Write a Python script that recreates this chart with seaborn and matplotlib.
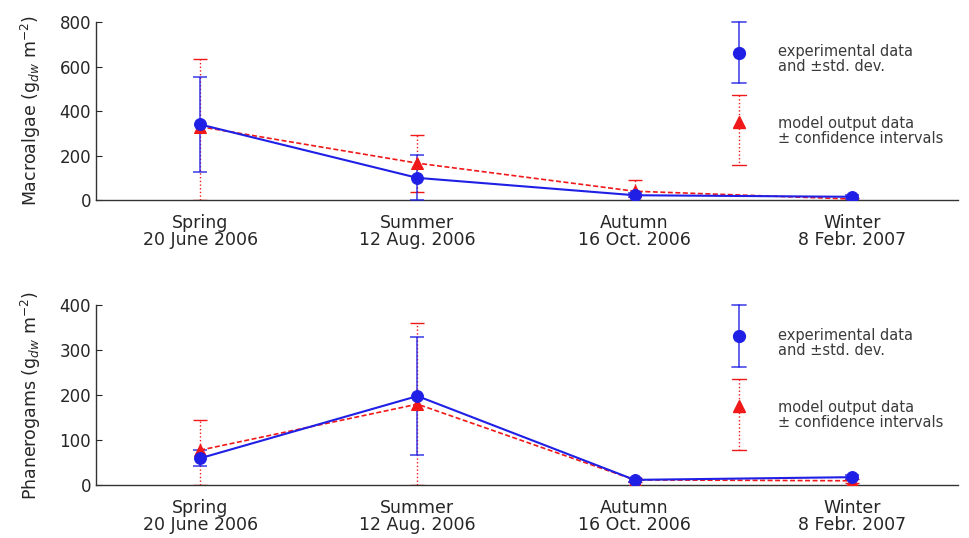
import numpy as np
import pandas as pd
import matplotlib
matplotlib.use("Agg")
import matplotlib.pyplot as plt
import seaborn as sns

# Sampling campaigns
seasons = ["Spring\n20 June 2006", "Summer\n12 Aug. 2006", "Autumn\n16 Oct. 2006", "Winter\n8 Febr. 2007"]

# Macroalgae biomass (g_dw m^-2)
macro_exp = [340, 100, 22, 15]
macro_exp_sd = [215, 105, 10, 8]
macro_mod = [330, 166, 40, 5]
macro_mod_lo = [330, 128, 40, 5]
macro_mod_hi = [305, 128, 50, 5]

# Phanerogams biomass (g_dw m^-2)
phan_exp = [60, 198, 12, 18]
phan_exp_sd = [18, 131, 4, 5]
phan_mod = [78, 180, 12, 10]
phan_mod_lo = [78, 180, 4, 4]
phan_mod_hi = [66, 180, 4, 4]

BLUE = "#1f1fe6"
RED = "#f01818"
TXT = "#262626"

sns.set_style("ticks")
plt.rcParams["font.family"] = ["DejaVu Sans"]

fig = plt.figure(figsize=(9.69, 5.38), dpi=100)
ax1 = fig.add_axes([0.099, 0.628, 0.890, 0.331])
ax2 = fig.add_axes([0.099, 0.098, 0.890, 0.335])


def draw_panel(ax, exp, exp_sd, mod, mod_lo, mod_hi, ymax, ystep, ylabel):
    x = np.arange(len(seasons))
    df = pd.DataFrame({"x": x, "exp": exp, "mod": mod})

    # blue bars clipped at zero like in the original
    lo_e = np.minimum(np.array(exp_sd), np.array(exp))
    eb = ax.errorbar(x, mod, yerr=[mod_lo, mod_hi], fmt="none", ecolor=RED,
                     elinewidth=1.0, capsize=5, capthick=1.0, zorder=2)
    eb[2][0].set_linestyle(":")
    ax.errorbar(x, exp, yerr=[lo_e, exp_sd], fmt="none", ecolor=BLUE,
                elinewidth=1.3, capsize=5, capthick=1.3, alpha=0.75, zorder=3)

    sns.lineplot(data=df, x="x", y="mod", ax=ax, color=RED, linestyle=(0, (3, 1.5)),
                 linewidth=1.2, marker="^", markersize=8.5, markeredgecolor=RED, zorder=4)
    sns.lineplot(data=df, x="x", y="exp", ax=ax, color=BLUE, linewidth=1.5,
                 marker="o", markersize=8.5, markeredgecolor=BLUE, zorder=5)

    ax.set_xlim(-0.48, 3.49)
    ax.set_ylim(0, ymax)
    ax.set_yticks(np.arange(0, ymax + 1, ystep))
    ax.set_xticks(x)
    ax.set_xticklabels(seasons, fontsize=12.5, color=TXT, linespacing=0.95)
    ax.tick_params(axis="x", length=0, pad=10)
    ax.tick_params(axis="y", direction="in", length=4, labelsize=12, colors=TXT)
    ax.set_xlabel("")
    ax.set_ylabel(ylabel, fontsize=12.5, color=TXT, labelpad=12)
    sns.despine(ax=ax)
    for s in ["left", "bottom"]:
        ax.spines[s].set_color("#333333")
        ax.spines[s].set_linewidth(1.0)

    # legend glyphs drawn as vertical error bars, like the original
    tr = ax.transAxes
    gx = 0.746
    ax.plot([gx, gx], [1.0, 0.655], color=BLUE, lw=1.3, alpha=0.75, transform=tr, clip_on=False)
    for yy in [1.0, 0.655]:
        ax.plot([gx - 0.008, gx + 0.008], [yy, yy], color=BLUE, lw=1.3, alpha=0.75,
                transform=tr, clip_on=False)
    ax.plot([gx], [0.826], marker="o", color=BLUE, ms=8.5, transform=tr, clip_on=False)
    ax.plot([gx, gx], [0.59, 0.197], color=RED, lw=1.0, ls=":", transform=tr, clip_on=False)
    for yy in [0.59, 0.197]:
        ax.plot([gx - 0.008, gx + 0.008], [yy, yy], color=RED, lw=1.0, transform=tr, clip_on=False)
    ax.plot([gx], [0.44], marker="^", color=RED, ms=8.5, transform=tr, clip_on=False)
    ax.text(0.791, 0.79, "experimental data\nand \u00b1std. dev.", transform=tr,
            fontsize=10.5, color="#3a3a3a", va="center", ha="left", linespacing=1.0)
    ax.text(0.791, 0.39, "model output data\n\u00b1 confidence intervals", transform=tr,
            fontsize=10.5, color="#3a3a3a", va="center", ha="left", linespacing=1.0)


draw_panel(ax1, macro_exp, macro_exp_sd, macro_mod, macro_mod_lo, macro_mod_hi, 800, 200,
           "Macroalgae (g$_{dw}$ m$^{-2}$)")
draw_panel(ax2, phan_exp, phan_exp_sd, phan_mod, phan_mod_lo, phan_mod_hi, 400, 100,
           "Phanerogams (g$_{dw}$ m$^{-2}$)")

fig.savefig("out.png", dpi=100)
